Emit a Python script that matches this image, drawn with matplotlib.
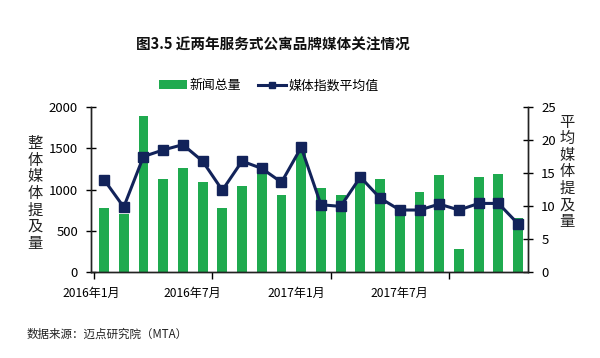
import matplotlib
matplotlib.use("Agg")
import matplotlib.pyplot as plt
import numpy as np

plt.rcParams["font.family"] = ["Noto Sans CJK SC", "DejaVu Sans"]

# 2016-01 .. 2017-10
months = ["2016-01", "2016-02", "2016-03", "2016-04", "2016-05", "2016-06",
          "2016-07", "2016-08", "2016-09", "2016-10", "2016-11", "2016-12",
          "2017-01", "2017-02", "2017-03", "2017-04", "2017-05", "2017-06",
          "2017-07", "2017-08", "2017-09", "2017-10"]
news_total = [776, 707, 1887, 1127, 1261, 1087, 776, 1038, 1232, 937, 1480, 1018,
              939, 1140, 1130, 804, 975, 1171, 278, 1151, 1184, 661]
media_index = [14.0, 9.85, 17.5, 18.5, 19.3, 16.8, 12.4, 16.8, 15.7, 13.6, 18.9, 10.2,
               9.95, 14.4, 11.2, 9.4, 9.4, 10.3, 9.4, 10.4, 10.4, 7.3]
tick_labels = ["2016年1月", "2016年7月", "2017年1月", "2017年7月"]

GREEN = "#1faa4f"
NAVY = "#12235a"

fig = plt.figure(figsize=(6.0, 3.58), dpi=100)
ax = fig.add_axes([0.152, 0.240, 0.728, 0.461])
ax2 = ax.twinx()

x = np.arange(len(months))
ax.bar(x, news_total, width=0.5, color=GREEN, label="新闻总量", zorder=2)
ax2.plot(x, media_index, color=NAVY, lw=2.2, marker="s", ms=7,
         mec=NAVY, mfc=NAVY, label="媒体指数平均值", zorder=3)

ax.set_xlim(-0.5, len(months) - 0.5)
ax.set_ylim(0, 2000)
ax.set_yticks(range(0, 2001, 500))
ax2.set_ylim(0, 25)
ax2.set_yticks(range(0, 26, 5))
ax.set_zorder(ax2.get_zorder() - 1)
ax.patch.set_visible(False)

# boundary ticks at each half-year, labels placed a bit left like the source
ax.set_xticks([-0.5, 5.5, 11.5, 17.5])
ax.set_xticklabels([])
ax.set_xticks([-0.65, 4.5, 9.75, 15.0], tick_labels, minor=True)
ax.tick_params(axis="x", which="major", direction="out", length=5, width=1)
ax.tick_params(axis="x", which="minor", length=0, pad=11, labelsize=8.7)
ax.tick_params(axis="y", direction="inout", length=7, width=1, labelsize=9.5, pad=6)
ax2.tick_params(axis="y", direction="inout", length=7, width=1, labelsize=9.5, pad=6)

for a in (ax, ax2):
    a.spines["top"].set_visible(False)
    for s in ("left", "right", "bottom"):
        a.spines[s].set_linewidth(1.0)
        a.spines[s].set_color("#222222")

fig.text(0.058, 0.46, "\n".join("整体媒体提及量"), ha="center", va="center",
         fontsize=11, linespacing=0.97, color="#222222")
fig.text(0.945, 0.52, "\n".join("平均媒体提及量"), ha="center", va="center",
         fontsize=11, linespacing=0.97, color="#222222")

fig.text(0.454, 0.874, "图3.5 近两年服务式公寓品牌媒体关注情况", ha="center", va="center",
         fontsize=10.5, fontweight="bold", color="#111111")

h1, l1 = ax.get_legend_handles_labels()
h2, l2 = ax2.get_legend_handles_labels()
fig.legend(h1 + h2, l1 + l2, loc="center", bbox_to_anchor=(0.448, 0.76), ncol=2,
           frameon=False, fontsize=9.3, handlelength=2.2, handletextpad=0.2,
           columnspacing=1.3, markerscale=0.7)

fig.text(0.045, 0.065, "数据来源：迈点研究院（MTA）", ha="left", va="center",
         fontsize=8.3, color="#222222")

fig.savefig("out.png", dpi=100)
